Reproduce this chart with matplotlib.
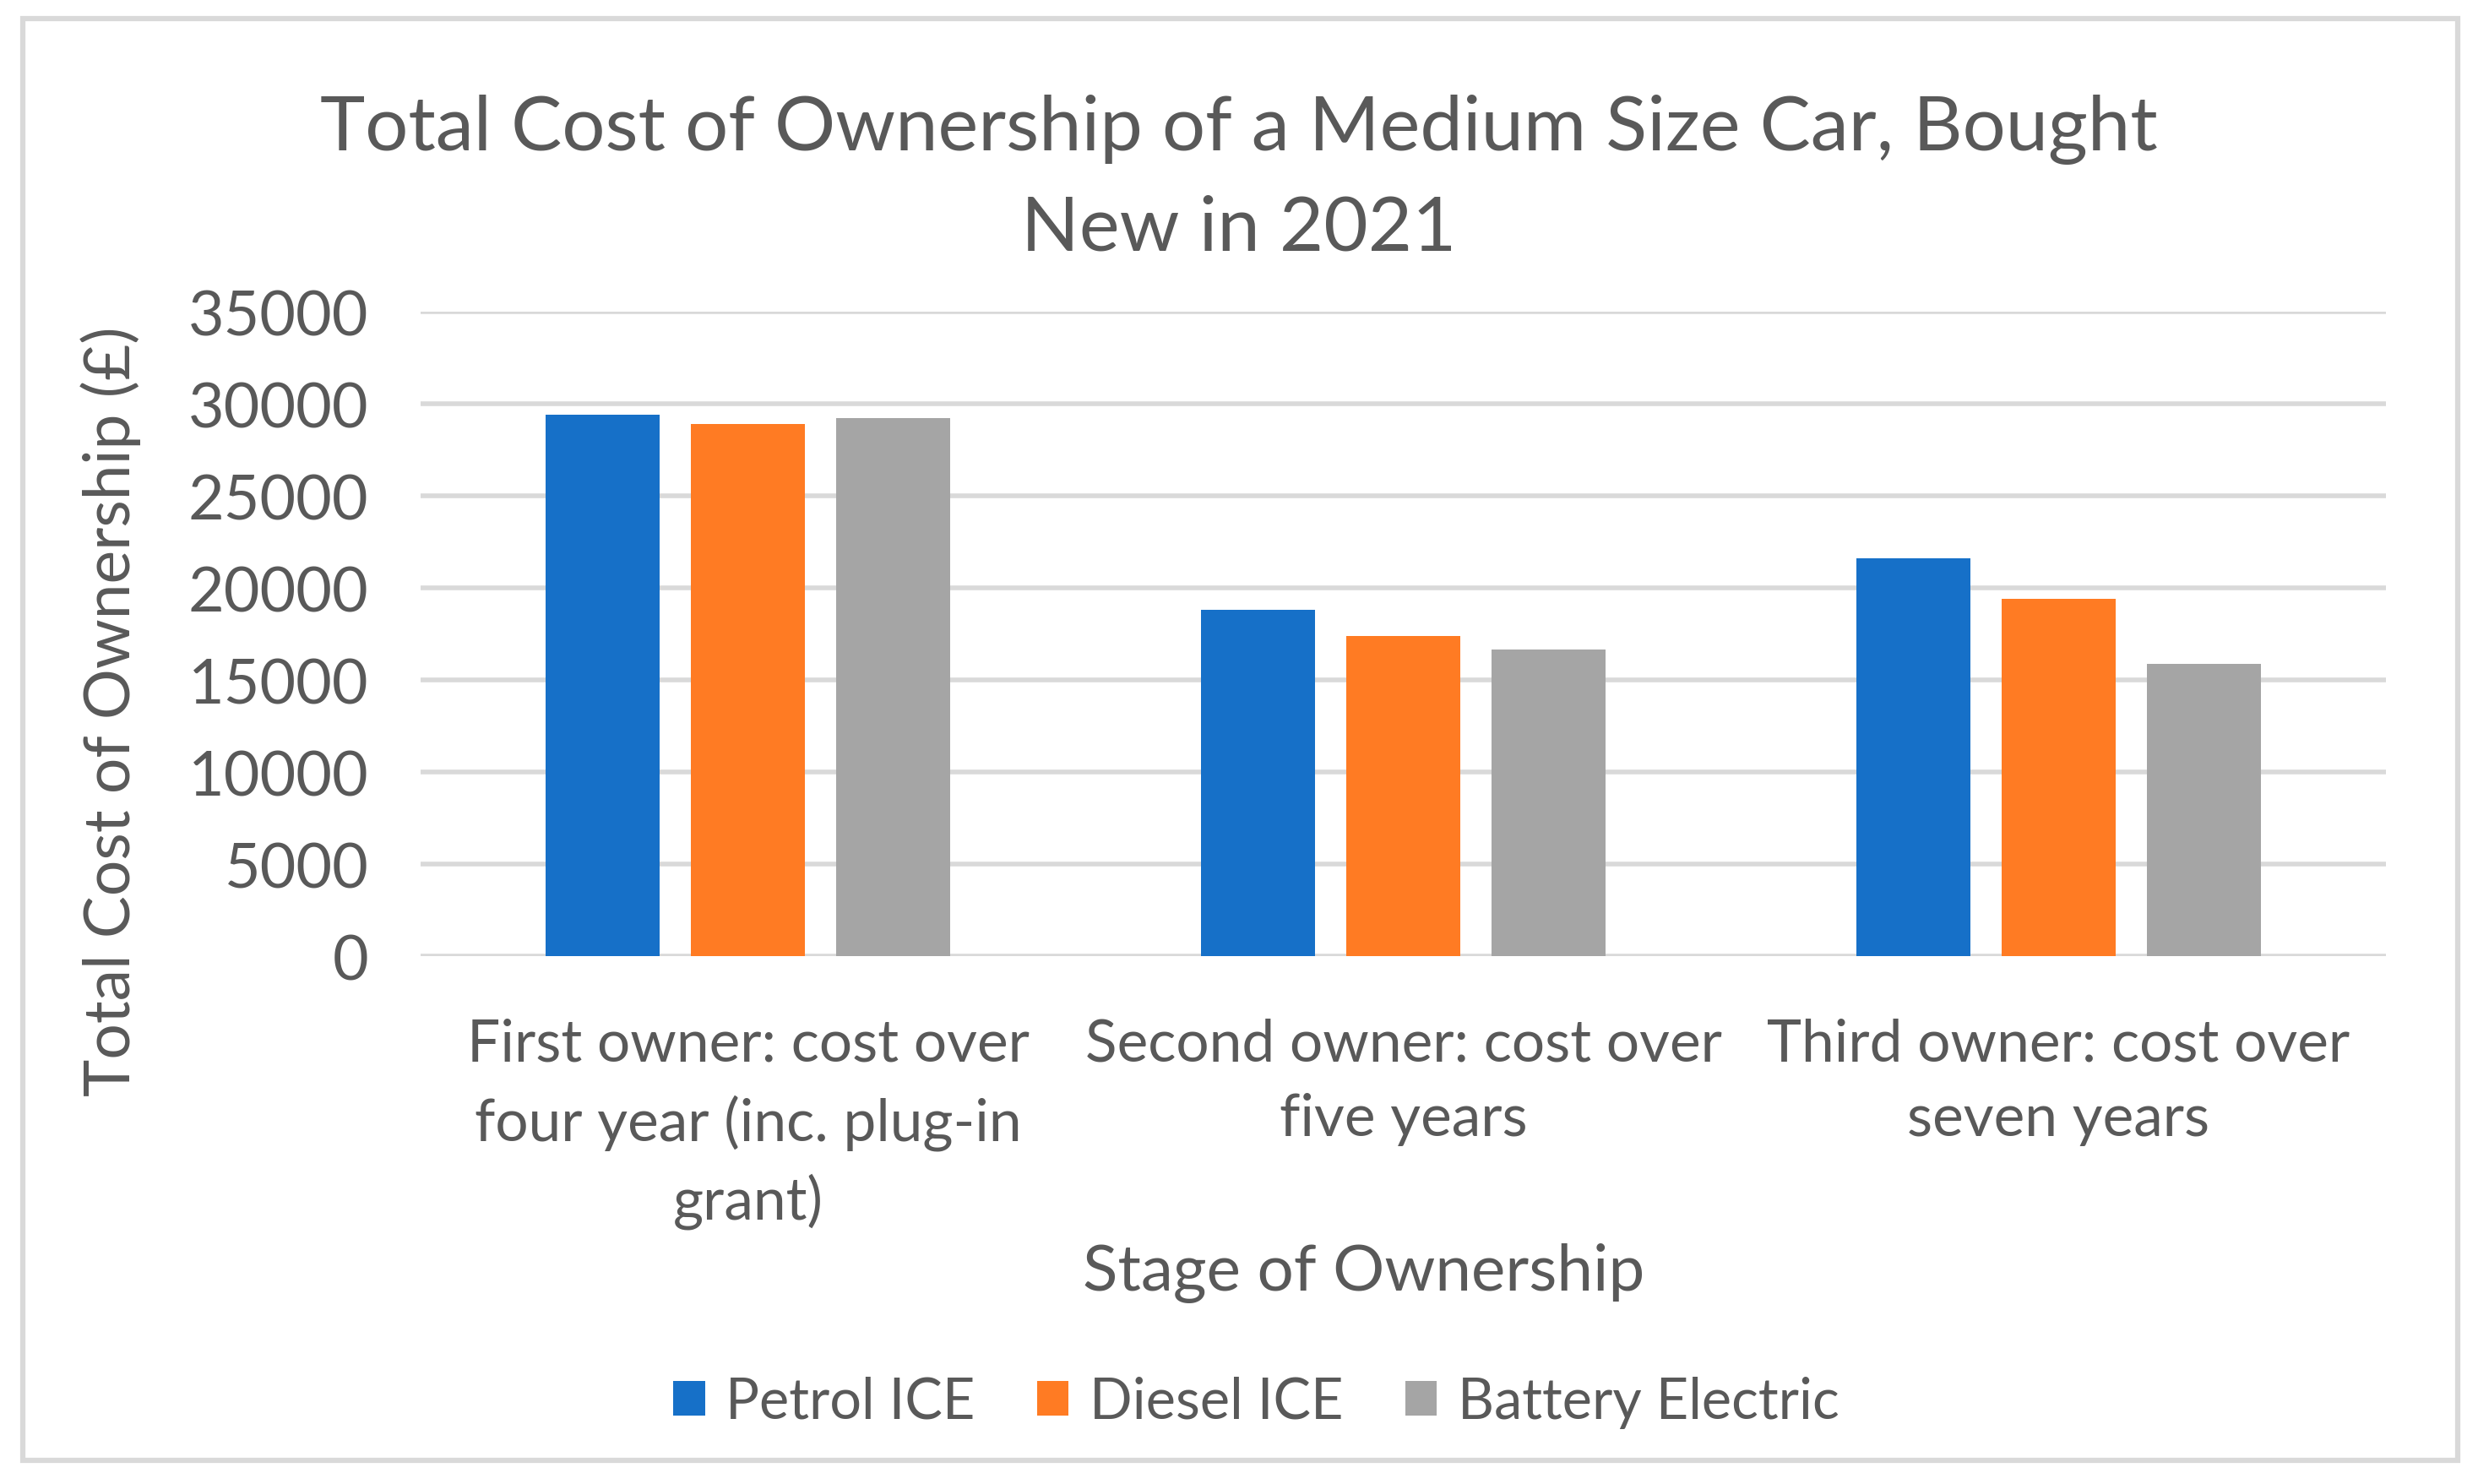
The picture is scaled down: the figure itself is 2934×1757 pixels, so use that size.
import numpy as np
import matplotlib
matplotlib.use('Agg')
import matplotlib.pyplot as plt
from matplotlib.patches import Rectangle

stages = ['First owner: cost over\nfour year (inc. plug-in\ngrant)',
          'Second owner: cost over\nfive years',
          'Third owner: cost over\nseven years']
series = ['Petrol ICE', 'Diesel ICE', 'Battery Electric']
petrol = [29400, 18800, 21600]
diesel = [28900, 17400, 19400]
battery = [29250, 16650, 15900]
colors = ['#1670C8', '#FF7B23', '#A5A5A5']

plt.rcParams['font.family'] = ['Lato', 'DejaVu Sans']
txt = '#595959'

fig = plt.figure(figsize=(29.34, 17.58), dpi=100)
ax = fig.add_axes([0.1696, 0.3553, 0.7934, 0.4341])

x = np.arange(len(stages))
w = 0.174
off = 0.222
for i, (vals, c, lab) in enumerate(zip([petrol, diesel, battery], colors, series)):
    ax.bar(x + (i - 1) * off, vals, width=w, color=c, label=lab, zorder=3)

ax.set_xlim(-0.5, 2.5)
ax.set_ylim(0, 35000)
ax.set_yticks(np.arange(0, 35001, 5000))
ax.grid(axis='y', color='#D9D9D9', linewidth=4, zorder=0)
for s in ax.spines.values():
    s.set_visible(False)
ax.tick_params(axis='y', length=0, pad=44, labelsize=53, labelcolor=txt)
ax.tick_params(axis='x', length=0, pad=52, labelsize=50, labelcolor=txt)
ax.set_xticks(x)
ax.set_xticklabels(stages, linespacing=1.5)

ax.set_ylabel('Total Cost of Ownership (£)', fontsize=54, color=txt, va='center')
ax.yaxis.set_label_coords(-0.1576, 0.382)
ax.set_xlabel('Stage of Ownership', fontsize=55, color=txt, va='center')
ax.xaxis.set_label_coords(0.48, -0.49)

fig.text(0.5, 0.9128, 'Total Cost of Ownership of a Medium Size Car, Bought',
         ha='center', va='center', fontsize=65, color=txt)
fig.text(0.5, 0.8458, 'New in 2021', ha='center', va='center', fontsize=65, color=txt)

fig.legend(loc='center', bbox_to_anchor=(0.507, 0.0553), ncol=3, frameon=False,
           fontsize=48, labelcolor=txt, handlelength=0.56, handleheight=0.56,
           handletextpad=0.37, columnspacing=1.1)

fig.patches.append(Rectangle((0.0092, 0.016), 0.9826, 0.9708, transform=fig.transFigure,
                             fill=False, edgecolor='#D9D9D9', linewidth=4.5))

fig.savefig('out.png', dpi=100, facecolor='white')
